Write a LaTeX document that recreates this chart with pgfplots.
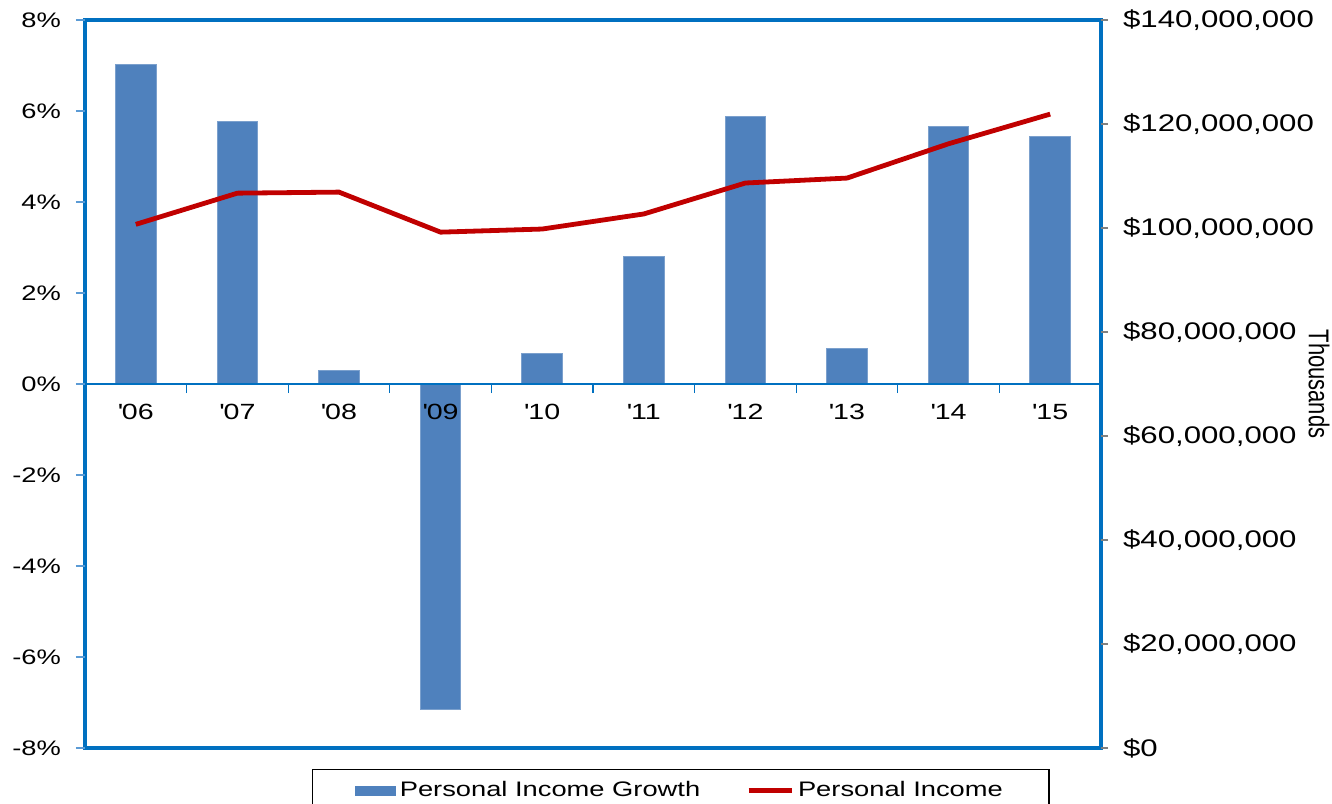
\documentclass[border=0pt]{standalone}
\usepackage{graphicx}
\usepackage{pgfplots}
\pgfplotsset{compat=1.18}
\usepackage{fontspec}
\setmainfont[FakeStretch=1.3]{Liberation Sans}
\newfontfamily\plainfont{Liberation Sans}
\definecolor{barblue}{HTML}{4F81BD}
\definecolor{baredge}{HTML}{7BA0CD}
\definecolor{frameblue}{HTML}{0070C0}
\definecolor{lineRed}{HTML}{C00000}
\definecolor{tickblue}{HTML}{5B9BD5}
\begin{document}
\begin{tikzpicture}[font=\fontsize{10.5pt}{12pt}\selectfont]
\begin{axis}[
  at={(42.5pt,27.5pt)}, anchor=south west,
  scale only axis, width=508pt, height=364pt,
  xmin=-0.5, xmax=9.5, ymin=-8, ymax=8,
  axis x line=middle, axis y line=left,
  axis on top,
  hide obscured x ticks=false,
  x axis line style={draw=frameblue, line width=0.75pt, -},
  y axis line style={draw=none},
  clip=false,
  xtick={-0.5,0.5,...,9.5},
  x tick label as interval,
  xticklabels={\textquotesingle 06,\textquotesingle 07,\textquotesingle 08,\textquotesingle 09,\textquotesingle 10,\textquotesingle 11,\textquotesingle 12,\textquotesingle 13,\textquotesingle 14,\textquotesingle 15},
  ytick={-8,-6,...,8},
  yticklabels={-8\%,-6\%,-4\%,-2\%,0\%,2\%,4\%,6\%,8\%},
  tick align=outside,
  major tick length=4.5pt,
  x tick style={draw=frameblue, line width=0.6pt},
  y tick style={draw=tickblue, line width=0.6pt},
  yticklabel style={xshift=-4pt},
  xticklabel style={yshift=-2pt, font=\fontsize{11pt}{12pt}\selectfont},
]
\addplot[ybar, bar width=20.3pt, fill=barblue, draw=baredge, line width=0.5pt] coordinates {
(0,7.03) (1,5.76) (2,0.29) (3,-7.16) (4,0.68) (5,2.81) (6,5.89) (7,0.77) (8,5.65) (9,5.45)};
\draw[frameblue, line width=2.3pt] (rel axis cs:0,0) rectangle (rel axis cs:1,1);
\end{axis}
\begin{axis}[
  at={(42.5pt,27.5pt)}, anchor=south west,
  scale only axis, width=508pt, height=364pt,
  xmin=-0.5, xmax=9.5, ymin=0, ymax=140,
  axis y line*=right, axis x line=none,
  y axis line style={draw=none},
  ytick={0,20,...,140},
  yticklabels={{\$0},{\$20,000,000},{\$40,000,000},{\$60,000,000},{\$80,000,000},{\$100,000,000},{\$120,000,000},{\$140,000,000}},
  tick align=outside, major tick length=3.5pt,
  y tick style={draw=gray, line width=0.6pt},
  yticklabel style={anchor=west, xshift=4pt, font=\fontsize{12pt}{13pt}\selectfont},
  every axis y label/.style={at={(rel axis cs:1.2146,0.5)}, anchor=center, rotate=-90},
  ylabel={\scalebox{1}[1.3]{\plainfont\fontsize{11pt}{12pt}\selectfont Thousands}},
  legend columns=2,
  legend style={at={(rel axis cs:0,0)}, anchor=north west, xshift=113.5pt, yshift=-10.5pt,
    draw=black, line width=0.6pt, inner xsep=21pt, inner ysep=4pt,
    /tikz/every even column/.append style={column sep=21pt},
    font=\fontsize{10.5pt}{12pt}\selectfont},
]
\addlegendimage{legend image code/.code={\fill[barblue] (0pt,-2.25pt) rectangle (20pt,2.25pt);}}
\addlegendentry{Personal Income Growth}
\addplot[lineRed, line width=2.4pt, mark=none, legend image code/.code={\draw[lineRed, line width=2.4pt] (0pt,0pt) -- (21.5pt,0pt);}] coordinates {
(0,100.7) (1,106.7) (2,106.9) (3,99.2) (4,99.8) (5,102.7) (6,108.65) (7,109.6) (8,116.2) (9,121.9)};
\addlegendentry{Personal Income}
\end{axis}
\pgfresetboundingbox
\path[use as bounding box] (0,0) rectangle (666pt,401.5pt);
\end{tikzpicture}
\end{document}
